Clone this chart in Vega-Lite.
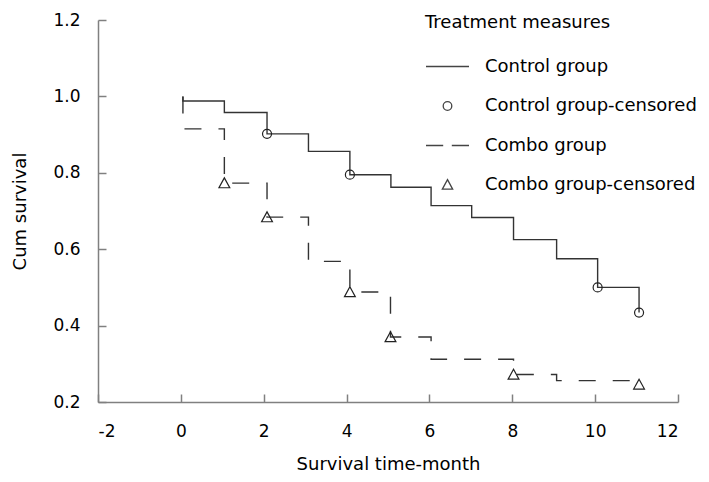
{
  "$schema": "https://vega.github.io/schema/vega-lite/v6.json",
  "autosize": {"type": "none"},
  "width": 580,
  "height": 382,
  "padding": {"left": 98, "top": 20, "right": 31, "bottom": 80},
  "background": "white",
  "config": {
    "view": {"stroke": null},
    "font": "DejaVu Sans",
    "axis": {
      "domainColor": "#808080",
      "domainWidth": 1.5,
      "tickColor": "#808080",
      "tickWidth": 1.5,
      "tickSize": -8,
      "grid": false,
      "labelColor": "#000000",
      "labelFont": "DejaVu Sans",
      "labelFontSize": 17,
      "titleFont": "DejaVu Sans",
      "titleFontSize": 18,
      "titleFontWeight": "normal",
      "titleColor": "#000000"
    }
  },
  "datasets": {
    "steps": [
      {"group": "Control", "i": 0, "t": 0.05, "s": 1.0},
      {"group": "Control", "i": 1, "t": 0.05, "s": 0.988},
      {"group": "Control", "i": 2, "t": 1.05, "s": 0.958},
      {"group": "Control", "i": 3, "t": 2.08, "s": 0.902},
      {"group": "Control", "i": 4, "t": 3.08, "s": 0.856},
      {"group": "Control", "i": 5, "t": 4.08, "s": 0.795},
      {"group": "Control", "i": 6, "t": 5.07, "s": 0.762},
      {"group": "Control", "i": 7, "t": 6.04, "s": 0.714},
      {"group": "Control", "i": 8, "t": 7.02, "s": 0.683},
      {"group": "Control", "i": 9, "t": 8.03, "s": 0.625},
      {"group": "Control", "i": 10, "t": 9.07, "s": 0.575},
      {"group": "Control", "i": 11, "t": 10.06, "s": 0.5},
      {"group": "Control", "i": 12, "t": 11.06, "s": 0.434},
      {"group": "Combo", "i": 0, "t": 0.05, "s": 1.0},
      {"group": "Combo", "i": 1, "t": 0.05, "s": 0.915},
      {"group": "Combo", "i": 2, "t": 1.05, "s": 0.773},
      {"group": "Combo", "i": 3, "t": 2.08, "s": 0.684},
      {"group": "Combo", "i": 4, "t": 3.08, "s": 0.568},
      {"group": "Combo", "i": 5, "t": 4.08, "s": 0.488},
      {"group": "Combo", "i": 6, "t": 5.06, "s": 0.37},
      {"group": "Combo", "i": 7, "t": 6.04, "s": 0.312},
      {"group": "Combo", "i": 8, "t": 8.03, "s": 0.272},
      {"group": "Combo", "i": 9, "t": 9.07, "s": 0.256},
      {"group": "Combo", "i": 10, "t": 11.0, "s": 0.256}
    ],
    "cens": [
      {"label": "Control group-censored", "t": 2.08, "s": 0.902},
      {"label": "Control group-censored", "t": 4.08, "s": 0.795},
      {"label": "Control group-censored", "t": 10.06, "s": 0.5},
      {"label": "Control group-censored", "t": 11.06, "s": 0.434},
      {"label": "Combo group-censored", "t": 1.05, "s": 0.772},
      {"label": "Combo group-censored", "t": 2.08, "s": 0.683},
      {"label": "Combo group-censored", "t": 4.08, "s": 0.487},
      {"label": "Combo group-censored", "t": 5.06, "s": 0.369},
      {"label": "Combo group-censored", "t": 8.03, "s": 0.271},
      {"label": "Combo group-censored", "t": 11.06, "s": 0.245}
    ]
  },
  "layer": [
    {
      "data": {"name": "steps"},
      "mark": {"type": "line", "interpolate": "step-after", "color": "#333333", "strokeWidth": 1.4},
      "encoding": {
        "x": {
          "field": "t", "type": "quantitative",
          "scale": {"domain": [-2, 12], "nice": false, "zero": false},
          "axis": {"values": [-2, 0, 2, 4, 6, 8, 10, 12], "labelExpr": "datum.value < 0 ? '-' + abs(datum.value) : datum.label", "title": "Survival time-month", "labelPadding": 29, "titlePadding": 16}
        },
        "y": {
          "field": "s", "type": "quantitative",
          "scale": {"domain": [0.2, 1.2], "nice": false, "zero": false},
          "axis": {"values": [0.2, 0.4, 0.6, 0.8, 1.0, 1.2], "format": ".1f", "title": "Cum survival", "labelPadding": 26, "titlePadding": 23}
        },
        "detail": {"field": "group"},
        "strokeDash": {
          "field": "group", "type": "nominal",
          "scale": {"domain": ["Control", "Combo"], "range": [[1, 0], [17, 17]]},
          "legend": null
        },
        "order": {"field": "i", "type": "quantitative"}
      }
    },
    {
      "data": {"name": "cens"},
      "mark": {"type": "point", "filled": false, "color": "#222222", "strokeWidth": 1.2, "size": 2025, "opacity": 1},
      "encoding": {
        "x": {"field": "t", "type": "quantitative"},
        "y": {"field": "s", "type": "quantitative"},
        "shape": {
          "field": "label", "type": "nominal",
          "scale": {
            "domain": ["Control group", "Control group-censored", "Combo group", "Combo group-censored"],
            "range": [
              "M-1,0H1",
              "M0.2,0A0.2,0.2,0,1,1,-0.2,0A0.2,0.2,0,1,1,0.2,0Z",
              "M-1,0H-0.2M0.2,0H1",
              "M0,-0.25L0.24,0.19L-0.24,0.19Z"
            ]
          },
          "legend": {
            "title": "Treatment measures",
            "orient": "none",
            "legendX": 327,
            "legendY": -6,
            "padding": 0,
            "titleFont": "DejaVu Sans",
            "titleFontSize": 18,
            "titleFontWeight": "normal",
            "titleColor": "#000000",
            "titleLimit": 400,
            "titlePadding": 12,
            "labelFont": "DejaVu Sans",
            "labelFontSize": 18,
            "labelColor": "#000000",
            "labelOffset": 15,
            "labelLimit": 400,
            "symbolSize": 1849,
            "symbolStrokeColor": "#444444",
            "symbolFillColor": "transparent",
            "symbolStrokeWidth": 1.3,
            "symbolOpacity": 1,
            "rowPadding": 7.5
          }
        }
      }
    }
  ]
}
